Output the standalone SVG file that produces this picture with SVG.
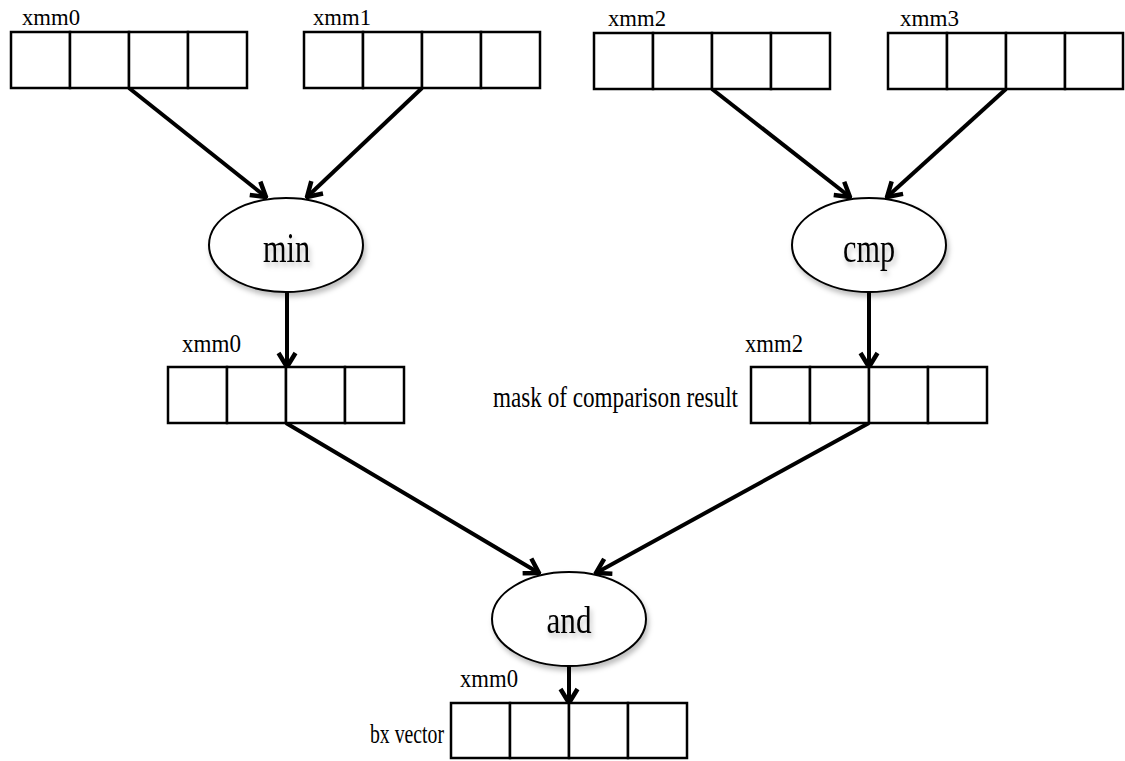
<svg xmlns="http://www.w3.org/2000/svg" width="1125" height="761" viewBox="0 0 1125 761">
<defs>
<style>
.cell{fill:#fff;stroke:#000;stroke-width:2.5}
.lbl{font-family:"Liberation Serif","Times New Roman",serif;fill:#000}
.op{fill:#fff;stroke:#000;stroke-width:2}
.conn{stroke:#000;stroke-width:4;fill:none;marker-end:url(#arr)}
</style>
<marker id="arr" viewBox="-17 -11 19 22" refX="0" refY="0" markerWidth="19" markerHeight="22" markerUnits="userSpaceOnUse" orient="auto">
<path d="M-14,-8.5 L0,0 L-14,8.5" fill="none" stroke="#000" stroke-width="4.5" stroke-linejoin="miter"/>
</marker>
<filter id="sh" x="-20%" y="-20%" width="140%" height="150%">
<feDropShadow dx="2" dy="4" stdDeviation="2.5" flood-color="#000" flood-opacity="0.25"/>
</filter>
</defs>
<rect width="1125" height="761" fill="#fff"/>

<g id="connectors">
<line class="conn" x1="129" y1="88" x2="266" y2="197"/>
<line class="conn" x1="422" y1="88" x2="307" y2="197"/>
<line class="conn" x1="712" y1="89" x2="850" y2="197"/>
<line class="conn" x1="1006" y1="89" x2="887" y2="197"/>
<line class="conn" x1="287" y1="292" x2="287" y2="367"/>
<line class="conn" x1="869" y1="292" x2="869" y2="367"/>
<line class="conn" x1="286" y1="423" x2="539" y2="573"/>
<line class="conn" x1="869" y1="423" x2="596" y2="573"/>
<line class="conn" x1="569" y1="666" x2="569" y2="703"/>
</g>

<g id="reg-xmm0-top">
<rect class="cell" x="11" y="32" width="59" height="56"/>
<rect class="cell" x="70" y="32" width="59" height="56"/>
<rect class="cell" x="129" y="32" width="59" height="56"/>
<rect class="cell" x="188" y="32" width="59" height="56"/>
<text class="lbl" x="22" y="25" font-size="24" textLength="58" lengthAdjust="spacingAndGlyphs">xmm0</text>
</g>

<g id="reg-xmm1-top">
<rect class="cell" x="304" y="32" width="59" height="56"/>
<rect class="cell" x="363" y="32" width="59" height="56"/>
<rect class="cell" x="422" y="32" width="59" height="56"/>
<rect class="cell" x="481" y="32" width="59" height="56"/>
<text class="lbl" x="313" y="25" font-size="24" textLength="58" lengthAdjust="spacingAndGlyphs">xmm1</text>
</g>

<g id="reg-xmm2-top">
<rect class="cell" x="594" y="33" width="59" height="56"/>
<rect class="cell" x="653" y="33" width="59" height="56"/>
<rect class="cell" x="712" y="33" width="59" height="56"/>
<rect class="cell" x="771" y="33" width="59" height="56"/>
<text class="lbl" x="608" y="26" font-size="24" textLength="58" lengthAdjust="spacingAndGlyphs">xmm2</text>
</g>

<g id="reg-xmm3-top">
<rect class="cell" x="888" y="33" width="59" height="56"/>
<rect class="cell" x="947" y="33" width="59" height="56"/>
<rect class="cell" x="1006" y="33" width="59" height="56"/>
<rect class="cell" x="1065" y="33" width="58" height="56"/>
<text class="lbl" x="900" y="26" font-size="24" textLength="59" lengthAdjust="spacingAndGlyphs">xmm3</text>
</g>

<g id="op-min">
<ellipse class="op" cx="286" cy="245" rx="77" ry="47" filter="url(#sh)"/>
<text class="lbl" x="286.5" y="262" font-size="42" text-anchor="middle" textLength="47" lengthAdjust="spacingAndGlyphs" filter="url(#sh)">min</text>
</g>

<g id="op-cmp">
<ellipse class="op" cx="869" cy="245" rx="77" ry="47" filter="url(#sh)"/>
<text class="lbl" x="869" y="262" font-size="40" text-anchor="middle" textLength="52" lengthAdjust="spacingAndGlyphs" filter="url(#sh)">cmp</text>
</g>

<g id="reg-xmm0-mid">
<rect class="cell" x="168" y="367" width="59" height="56"/>
<rect class="cell" x="227" y="367" width="59" height="56"/>
<rect class="cell" x="286" y="367" width="59" height="56"/>
<rect class="cell" x="345" y="367" width="59" height="56"/>
<text class="lbl" x="182" y="352" font-size="26" textLength="59" lengthAdjust="spacingAndGlyphs">xmm0</text>
</g>

<g id="reg-xmm2-mid">
<rect class="cell" x="751" y="367" width="59" height="56"/>
<rect class="cell" x="810" y="367" width="59" height="56"/>
<rect class="cell" x="869" y="367" width="59" height="56"/>
<rect class="cell" x="928" y="367" width="59" height="56"/>
<text class="lbl" x="745" y="352" font-size="26" textLength="58" lengthAdjust="spacingAndGlyphs">xmm2</text>
<text class="lbl" x="493" y="407" font-size="30" textLength="245" lengthAdjust="spacingAndGlyphs">mask of comparison result</text>
</g>

<g id="op-and">
<ellipse class="op" cx="569" cy="619" rx="77" ry="47" filter="url(#sh)"/>
<text class="lbl" x="569" y="633" font-size="38" text-anchor="middle" textLength="45" lengthAdjust="spacingAndGlyphs" filter="url(#sh)">and</text>
</g>

<g id="reg-bx">
<rect class="cell" x="451" y="703" width="59" height="55"/>
<rect class="cell" x="510" y="703" width="59" height="55"/>
<rect class="cell" x="569" y="703" width="59" height="55"/>
<rect class="cell" x="628" y="703" width="59" height="55"/>
<text class="lbl" x="460" y="687" font-size="26" textLength="58" lengthAdjust="spacingAndGlyphs">xmm0</text>
<text class="lbl" x="370" y="743" font-size="28" textLength="74" lengthAdjust="spacingAndGlyphs">bx vector</text>
</g>
</svg>
